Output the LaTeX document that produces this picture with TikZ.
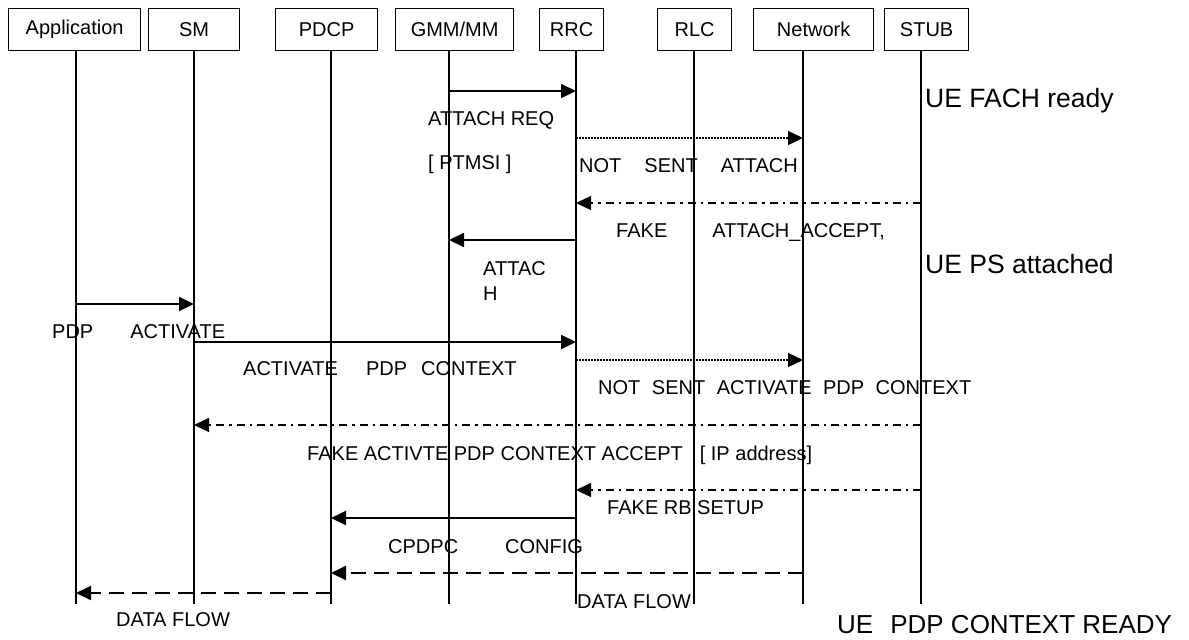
\documentclass[tikz,border=0pt]{standalone}
\usepackage{fontspec}
\setmainfont{Liberation Sans}
\usetikzlibrary{arrows.meta,calc}

% one horizontal message between two lifelines at height #4
\newcommand{\msgline}[4]{\draw[#1] ($(#2)+(0,#4)$) -- ($(#3)+(0,#4)$);}

\begin{document}
\begin{tikzpicture}[x=1pt,y=-1pt,
  font=\fontsize{20}{25}\selectfont,
  entity/.style={draw,line width=1.3pt,inner sep=0pt,anchor=north west,minimum height=42pt},
  life/.style={line width=1.3pt},
  tip/.style={-{Triangle[length=15pt,width=14pt]}},
  sync/.style={tip,line width=1.8pt},
  nosend/.style={tip,line width=1.3pt,dash pattern=on 1.5pt off 1.5pt},
  fake/.style={tip,line width=1.3pt,dash pattern=on 8pt off 5pt on 2.5pt off 5pt},
  flow/.style={tip,line width=2pt,dash pattern=on 15pt off 8pt},
  lbl/.style={anchor=base west,inner sep=0pt},
  state/.style={anchor=base west,inner sep=0pt,font=\fontsize{26.5}{30}\selectfont}]

\useasboundingbox (0,0) rectangle (1189,640);

% entity boxes
\node[entity,minimum width=132pt] (App)  at (8,8)   {Application};
\node[entity,minimum width=91pt]  (SM)   at (148,8) {SM};
\node[entity,minimum width=102pt] (PDCP) at (275,8) {PDCP};
\node[entity,minimum width=118pt] (GMM)  at (395,8) {GMM/MM};
\node[entity,minimum width=64pt]  (RRC)  at (539,8) {RRC};
\node[entity,minimum width=74pt]  (RLC)  at (657,8) {RLC};
\node[entity,minimum width=120pt] (Net)  at (753,8) {Network};
\node[entity,minimum width=84pt]  (STUB) at (884,8) {STUB};

% lifeline positions
\coordinate (xApp)  at (76,0);
\coordinate (xSM)   at (194,0);
\coordinate (xPDCP) at (331,0);
\coordinate (xGMM)  at (449,0);
\coordinate (xRRC)  at (576,0);
\coordinate (xRLC)  at (694,0);
\coordinate (xNet)  at (803,0);
\coordinate (xSTUB) at (921,0);
\coordinate (bot)   at (0,604);

\foreach \b/\l in {App/xApp,SM/xSM,PDCP/xPDCP,GMM/xGMM,RRC/xRRC,RLC/xRLC,Net/xNet,STUB/xSTUB}
  \draw[life] (\l |- \b.south) -- (\l |- bot);

% messages
\msgline{sync}{xGMM}{xRRC}{91}
\msgline{nosend}{xRRC}{xNet}{138}
\msgline{fake}{xSTUB}{xRRC}{203}
\msgline{sync}{xRRC}{xGMM}{240}
\msgline{sync}{xApp}{xSM}{304}
\msgline{sync}{xSM}{xRRC}{342}
\msgline{nosend}{xRRC}{xNet}{360}
\msgline{fake}{xSTUB}{xSM}{425}
\msgline{fake}{xSTUB}{xRRC}{490}
\msgline{sync}{xRRC}{xPDCP}{518}
\msgline{flow}{xNet}{xPDCP}{573}
\msgline{flow}{xPDCP}{xApp}{593}

% message labels
\node[lbl] (tReq)    at (428,125) {ATTACH REQ};
\node[lbl] (tPtmsi)  at (428,169) {[ PTMSI ]};
\node[lbl] (tNsAtt)  at (579,172) {NOT\hspace{23pt}SENT\hspace{23pt}ATTACH};
\node[lbl] (tFkAcc)  at (616,237) {FAKE\hspace{45pt}ATTACH\_ACCEPT,};
\node[anchor=north west,inner sep=0pt,align=left] (tAttH) at (483,261) {ATTAC\\H};
\node[lbl] (tPdpAct) at (52,338)  {PDP\hspace{37pt}ACTIVATE};
\node[lbl] (tActCtx) at (243,375) {ACTIVATE\hspace{28pt}PDP\hspace{14pt}CONTEXT};
\node[lbl] (tNsCtx)  at (598,394) {NOT\hspace{11.5pt}SENT\hspace{11.5pt}ACTIVATE\hspace{11.5pt}PDP\hspace{11.5pt}CONTEXT};
\node[lbl] (tFkCtx)  at (307,460) {FAKE ACTIVTE PDP CONTEXT ACCEPT\hspace{17pt}[ IP address]};
\node[lbl] (tFkRb)   at (607,514) {FAKE RB SETUP};
\node[lbl] (tCfg)    at (388,553) {CPDPC\hspace{47pt}CONFIG};
\node[lbl] (tFlowR)  at (577,608) {DATA FLOW};
\node[lbl] (tFlowL)  at (116,626) {DATA FLOW};

% UE state notes
\node[state] (sFach)  at (925,107.5) {UE FACH ready};
\node[state] (sPs)    at (925,273.5) {UE PS attached};
\node[state,font=\fontsize{26}{30}\selectfont] (sReady) at (837,633) {UE\hspace{17pt}PDP CONTEXT READY};

\end{tikzpicture}
\end{document}
